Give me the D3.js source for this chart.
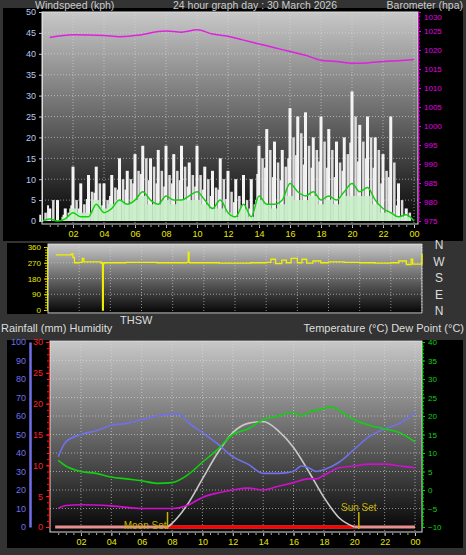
<!DOCTYPE html><html><head><script src="https://cdn.jsdelivr.net/npm/d3@7"></script>
<style>body{margin:0;background:#333}svg{display:block;font-family:"Liberation Sans",Arial,sans-serif}</style></head><body>
<svg id="c" width="466" height="555"></svg>
<script>
const hourTicks=[2,4,6,8,10,12,14,16,18,20,22,24];
const tickLabel=h=>h===24?"00":String(h).padStart(2,"0");
const gustHours=d3.range(0,24.01,0.5);
const gust=[0,3,5,3,13,9,11,13,9,11,15,12,16,18,15,17,18,16,18,14,18,13,12,15,12,10,11,10,18,22,19,17,27,25,26,20,25,22,19,20,31,23,25,20,16,25,9,3,0];
const gust2=[2,5,0,2,5,4,7,9,5,8,10,10,12,15,13,12,11,12,13,11,11,10,8,10,7,6,5,4,15,17,14,13,20,21,18,17,19,17,14,16,25,19,20,17,12,14,5,2,0];
const avgWind=[0,0.5,0,0.5,2,1,1,4,2,3,5,4,5,7,5,4,6,5,5,6,7,5,3,5,2,1,4,1,6,4,4,5,9,7,6,7,5,6,5,7,9,7,8,5,3,2,1,1.5,0];
const avgBar=[0,0,0,1,3,2,2,5,3,4,5,4,5,6,4,4,5,4,5,5,5,4,3,3,2,1,3,1,5,4,3,4,6,5,5,6,4,5,4,6,6,6,6,4,2,2,1,1,0];
const baroHours=[0.5,2,4,5,6,8,9,10,11,12,13,14,15,16,17,18,19,20,21,22,23,24];
const baro=[1023.3,1024,1023.8,1023.5,1023.8,1025,1024.7,1025.3,1024.2,1023.6,1022.6,1021.6,1020.6,1019.6,1018.6,1017.3,1017,1016.5,1016.6,1017,1017.2,1017.5];
const dirHours=[0.5,1.5,1.6,1.7,2,2.2,2.3,3.4,3.45,3.5,3.55,3.6,5,7,8.9,9,9.05,9.1,11,13,14,14.3,14.6,15,15.3,15.6,16,16.3,16.6,17,17.5,18,19,20,21,22,22.5,23,23.3,23.4,23.5,23.9,24];
const dir=[315,320,300,270,272,295,275,268,270,0,265,270,272,270,272,330,272,270,268,270,272,290,265,285,270,295,270,290,268,280,270,275,272,270,268,270,280,260,290,262,262,262,320];
const humHours=[0.5,1,2,3,4,5,6,7,8,8.5,9,10,11,12,13,14,15,16,16.5,17,17.5,18,19,20,21,22,23,24];
const hum=[38,46,50,52,55,56,58,60,61,61,57,51,45,38,34,29,29,30,33,32,30,31,35,42,49,53,56,62];
const tempHours=[0.5,1,2,3,4,5,6,7,8,9,10,11,12,13,14,15,16,16.5,17,18,18.5,19,20,21,22,23,24];
const temp=[8,6.5,5,4.5,3.5,3,2.5,1.8,2,4,7.5,11,15,16.5,19,20,21,20,21,22,22.5,21.5,19,17.5,16.5,15.5,13];
const dewHours=[0.5,1,2,4,6,8,9,10,11,12,13,14,15,16,17,17.5,18,19,20,21,22,23,24];
const dew=[-5,-4.2,-4,-4.3,-5,-5,-4.2,-2,-0.8,0,0.5,0,1,2,3,3,4,6,6.5,7,7,6.5,6];
const solarHours=[7.7,8,9,10,11,12,13,14,15,16,17,18,19,20];
const solar=[0,2,12,26,40,51,56,57,52,43,30,16,5,0];

const svg=d3.select("#c");
const defs=svg.append("defs");
const g=defs.append("linearGradient").attr("id","bg").attr("x1",0).attr("y1",0).attr("x2",0).attr("y2",1);
g.append("stop").attr("offset",0).attr("stop-color","#c8c8c8");
g.append("stop").attr("offset",1).attr("stop-color","#050505");

function panel(x0,x1,y0,y1){
  svg.append("rect").attr("x",x0).attr("y",y0).attr("width",x1-x0).attr("height",y1-y0).attr("fill","url(#bg)").attr("stroke","#ddd").attr("stroke-width",1);
}
function grid(x,y,yTicks,y0,y1,x0,x1){
  svg.append("g").selectAll("line").data(hourTicks).join("line").attr("x1",d=>x(d)).attr("x2",d=>x(d)).attr("y1",y0).attr("y2",y1).attr("stroke","#ddd").attr("stroke-dasharray","1,2").attr("opacity",0.6);
  svg.append("g").selectAll("line").data(yTicks).join("line").attr("y1",d=>y(d)).attr("y2",d=>y(d)).attr("x1",x0).attr("x2",x1).attr("stroke","#ddd").attr("stroke-dasharray","1,2").attr("opacity",0.6);
}
function xAxis(x,y,col){
  const a=svg.append("g").attr("transform",`translate(0,${y})`).call(d3.axisBottom(x).tickValues(hourTicks).tickFormat(tickLabel).tickSize(3));
  a.select(".domain").remove();
  a.selectAll("line").attr("stroke","#ccc");
  a.selectAll("text").attr("fill",col).attr("font-size",9);
  svg.append("g").attr("transform",`translate(0,${y})`).call(d3.axisBottom(x).tickValues(d3.range(0.5,24,0.5)).tickFormat("").tickSize(2)).call(s=>{s.select(".domain").remove();s.selectAll("line").attr("stroke","#aaa")});
}
function styleAx(a,col,fs){a.select(".domain").attr("stroke",col);a.selectAll("line").attr("stroke",col);a.selectAll("text").attr("fill",col).attr("font-size",fs||9);return a;}

// ---------- top panel
svg.append("rect").attr("x",3).attr("y",7).attr("width",460).attr("height",234).attr("fill","#000");
const x1=d3.scaleLinear([0,24],[42,414]);
const yW=d3.scaleLinear([0,50],[221,12]);
const yB=d3.scaleLinear([975,1030],[221,12]);
panel(42,418,12,224);
grid(x1,yW,d3.range(5,50,5),12,224,42,418);
const bw=x1(0.5)-x1(0);
svg.append("g").selectAll("rect").data(gust2).join("rect").attr("x",(d,i)=>x1(gustHours[i])+bw*0.3).attr("width",2.5).attr("y",d=>yW(d)).attr("height",d=>yW(0)-yW(d)).attr("fill","#dcdcdc");
svg.append("g").selectAll("rect").data(gust).join("rect").attr("x",(d,i)=>x1(gustHours[i])-1.5).attr("width",3).attr("y",d=>yW(d)).attr("height",d=>yW(0)-yW(d)).attr("fill","#f4f4f4");
svg.append("g").selectAll("rect").data(gust2).join("rect").attr("x",(d,i)=>x1(gustHours[i])-bw*0.35).attr("width",2).attr("y",d=>yW(d*0.75)).attr("height",d=>yW(0)-yW(d*0.75)).attr("fill","#eeeeee");
svg.append("g").selectAll("rect").data(avgBar).join("rect").attr("x",(d,i)=>x1(gustHours[i])-bw/2).attr("width",bw).attr("y",d=>yW(d)).attr("height",d=>yW(0)-yW(d)).attr("fill","#c8f0c8").attr("opacity",0.9);
svg.append("path").datum(avgWind).attr("d",d3.line().x((d,i)=>x1(gustHours[i])).y(d=>yW(d)).curve(d3.curveMonotoneX)).attr("fill","none").attr("stroke","#10d010").attr("stroke-width",1.5);
svg.append("path").datum(baro).attr("d",d3.line().x((d,i)=>x1(baroHours[i])).y(d=>yB(d)).curve(d3.curveMonotoneX)).attr("fill","none").attr("stroke","#e020e0").attr("stroke-width",1.5);
styleAx(svg.append("g").attr("transform","translate(42,0)").call(d3.axisLeft(yW).ticks(10).tickSize(3)),"#b8c8f0",9).select(".domain").attr("stroke","#ddd");
const baroAx=styleAx(svg.append("g").attr("transform","translate(418,0)").call(d3.axisRight(yB).tickValues(d3.range(975,1031,5)).tickFormat(d3.format("d")).tickSize(3)),"#e000e0",8);
baroAx.selectAll("text").filter(d=>d===1030).attr("dy","0.9em");
svg.append("g").attr("transform","translate(418,0)").call(d3.axisRight(yB).tickValues(d3.range(975,1030,1)).tickFormat("").tickSize(2)).call(s=>{s.selectAll("line").attr("stroke","#e000e0");s.select(".domain").remove()});
xAxis(x1,225,"#e8e800");
const T=(t,x,y,a,c,fs)=>svg.append("text").text(t).attr("x",x).attr("y",y).attr("text-anchor",a||"start").attr("fill",c||"#ccc").attr("font-size",fs||11);
svg.append("rect").attr("x",0).attr("y",0).attr("width",466).attr("height",8).attr("fill","#333");
T("Windspeed (kph)",35,9,"start","#ccc",10.5);T("24 hour graph day : 30 March 2026",255,9,"middle","#ccc",10.5);T("Barometer (hpa)",463,9,"end","#ccc",10.5);

// ---------- middle panel
svg.append("rect").attr("x",7).attr("y",243).attr("width",416).attr("height",71).attr("fill","#000");
const x2=d3.scaleLinear([0,24],[48,422]);
const yD=d3.scaleLinear([0,360],[310,247]);
panel(48,422,244,313);
grid(x2,yD,[90,180,270],244,313,48,422);
svg.append("path").datum(dir).attr("d",d3.line().x((d,i)=>x2(dirHours[i])).y(d=>yD(d)).curve(d3.curveStepAfter)).attr("fill","none").attr("stroke","#f0f000").attr("stroke-width",1.3);
styleAx(svg.append("g").attr("transform","translate(47,0)").call(d3.axisLeft(yD).tickValues([0,90,180,270,360]).tickSize(3)),"#e8e800",8);
svg.append("g").attr("transform","translate(47,0)").call(d3.axisLeft(yD).tickValues(d3.range(0,361,15)).tickFormat("").tickSize(2)).call(s=>{s.selectAll("line").attr("stroke","#c8c800");s.select(".domain").remove()});
["N","W","S","E","N"].forEach((t,i)=>T(t,439,249+i*16.5,"middle","#ddd",12));
T("THSW",120,324,"start","#ddd",11);
T("Rainfall (mm)  Humidity",1,332,"start","#ddd",11);
T("Temperature (°C) Dew Point (°C)",464,332,"end","#ddd",11);

// ---------- bottom panel
svg.append("rect").attr("x",7).attr("y",340).attr("width",456).attr("height",208).attr("fill","#000");
const x3=d3.scaleLinear([0,24],[50.6,415]);
const yH=d3.scaleLinear([0,100],[527,342]);
const yT=d3.scaleLinear([-10,40],[527,342]);
const yR=d3.scaleLinear([0,30],[527,342]);
const yS=d3.scaleLinear([0,100],[527,342]);
panel(50,422,341,532);
grid(x3,yH,d3.range(10,100,10),341,532,50,422);
svg.append("line").attr("x1",x3(0.3)).attr("x2",x3(24)).attr("y1",yR(0)).attr("y2",yR(0)).attr("stroke","#e89090").attr("stroke-width",3);
svg.append("line").attr("x1",x3(7.7)).attr("x2",x3(20)).attr("y1",yR(0)).attr("y2",yR(0)).attr("stroke","#ff0000").attr("stroke-width",3);
const ln=(hs,vs,ys,c)=>svg.append("path").datum(vs).attr("d",d3.line().x((d,i)=>x3(hs[i])).y(d=>ys(d)).curve(d3.curveMonotoneX)).attr("fill","none").attr("stroke",c).attr("stroke-width",1.6);
ln(solarHours,solar,yS,"#c8c8c8");
ln(humHours,hum,yH,"#7070e8");
ln(tempHours,temp,yT,"#10d010");
ln(dewHours,dew,yT,"#d010d0");
svg.append("line").attr("x1",x3(7.7)).attr("x2",x3(7.7)).attr("y1",512).attr("y2",529).attr("stroke","#c8b400").attr("stroke-width",1.5);
T("Moon Set",x3(7.7)-1,529,"end","#c8b400",10);
svg.append("line").attr("x1",x3(20.3)).attr("x2",x3(20.3)).attr("y1",512).attr("y2",529).attr("stroke","#c8b400").attr("stroke-width",1.5);
T("Sun Set",x3(20.3),511,"middle","#c8b400",10);
styleAx(svg.append("g").attr("transform","translate(30,0)").call(d3.axisLeft(yH).ticks(10).tickSize(0).tickPadding(4)),"#7070e8",9).select(".domain").attr("stroke-width",2.5);
styleAx(svg.append("g").attr("transform","translate(49,0)").call(d3.axisLeft(yR).tickValues([0,5,10,15,20,25,30]).tickSize(3)),"#ff2020",9);
svg.append("g").attr("transform","translate(49,0)").call(d3.axisLeft(yR).tickValues(d3.range(0,31,1)).tickFormat("").tickSize(2)).call(s=>{s.selectAll("line").attr("stroke","#ff2020");s.select(".domain").remove()});
styleAx(svg.append("g").attr("transform","translate(422,0)").call(d3.axisRight(yT).tickValues(d3.range(-10,41,5)).tickSize(3)),"#10d010",8);
svg.append("g").attr("transform","translate(422,0)").call(d3.axisRight(yT).tickValues(d3.range(-10,41,1)).tickFormat("").tickSize(2)).call(s=>{s.selectAll("line").attr("stroke","#10d010");s.select(".domain").remove()});
xAxis(x3,533,"#e8e800");
</script></body></html>
